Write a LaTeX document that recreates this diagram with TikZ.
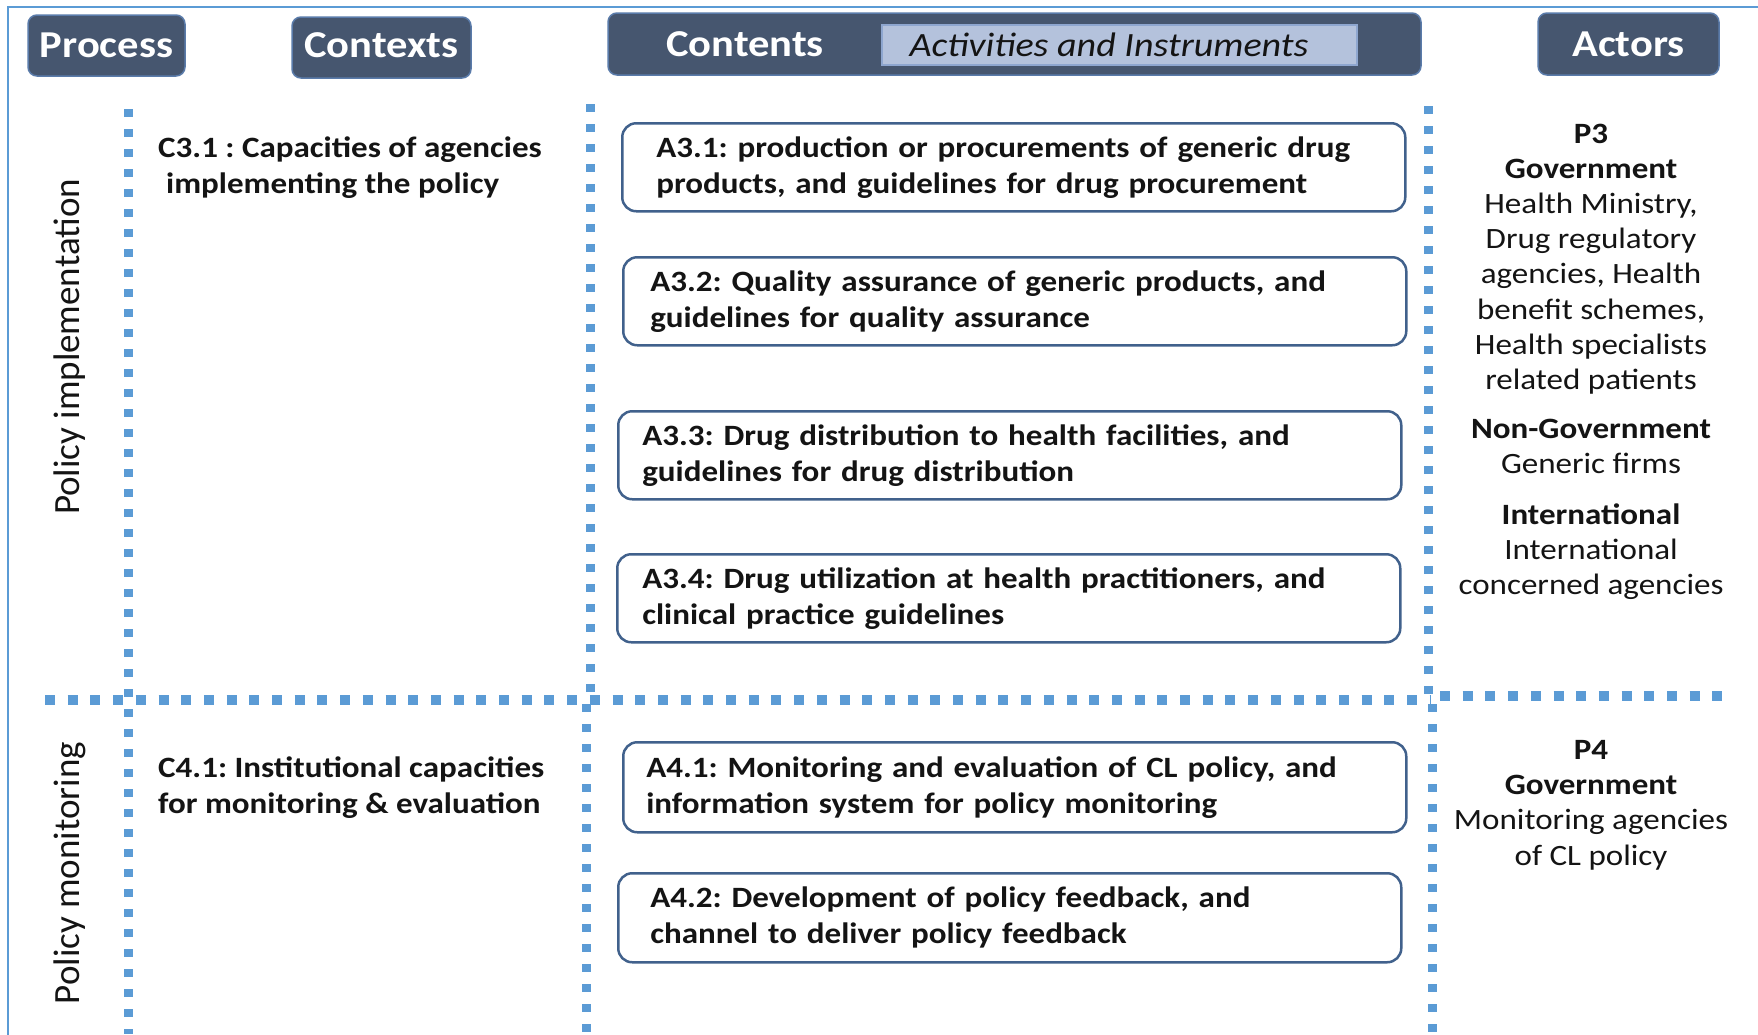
\documentclass[tikz,border=0pt]{standalone}
\usepackage{fontspec}
\setmainfont{Carlito}[FakeStretch=1.12]
\newfontfamily\rotfont{Carlito}
\definecolor{framecol}{HTML}{5B9BD5}
\definecolor{dotcol}{HTML}{5B9BD5}
\definecolor{hdrfill}{HTML}{46566F}
\definecolor{hdrborder}{HTML}{5A7BAA}
\definecolor{actfill}{HTML}{B4C2DC}
\definecolor{actborder}{HTML}{8EA6CF}
\definecolor{boxcol}{HTML}{41618C}
\definecolor{txt}{HTML}{141414}
\frenchspacing
\begin{document}
\begin{tikzpicture}[x=1pt,y=-1pt,
  hdr/.style={draw=hdrborder, fill=hdrfill, line width=1.5pt, rounded corners=9pt, text=white,
    font=\bfseries\fontsize{38}{44}\selectfont, inner sep=0pt},
  hdrtext/.style={text=white, font=\bfseries\fontsize{38}{44}\selectfont, inner sep=0pt},
  vdots/.style={dotcol, line width=9pt, dash pattern=on 8pt off 12pt},
  hdots/.style={dotcol, line width=10pt, dash pattern=on 10pt off 12.7pt},
  abox/.style={draw=boxcol, line width=2.5pt, rounded corners=14pt, fill=white, minimum width=783pt,
    minimum height=88pt, anchor=north west, align=left, text=txt,
    font=\bfseries\fontsize{29.5}{36}\selectfont},
  ctx/.style={anchor=west, align=left, text=txt, inner sep=0pt, font=\bfseries\fontsize{29.5}{36}\selectfont},
  actor/.style={align=center, text=txt, inner sep=0pt, font=\fontsize{29.5}{35.2}\selectfont},
  rotlab/.style={rotate=90, text=txt, inner sep=0pt, font=\rotfont\fontsize{37}{40}\selectfont}
]
\useasboundingbox (0,0) rectangle (1758,1034);
\fill[white] (0,0) rectangle (1758,1034);
% outer frame
\draw[framecol, line width=2pt] (8,1040) -- (8,7) -- (1765,7);
% dotted grid lines
\draw[vdots] (128,109) -- (128,1034);
\draw[vdots] (590,104) -- (590,696);
\draw[vdots] (586,704) -- (586,1034);
\draw[vdots] (1428,106) -- (1428,696);
\draw[vdots] (1432,704) -- (1432,1034);
\draw[hdots] (45,700) -- (1430,700);
\draw[hdots] (1440,696) -- (1735,696);
% headers
\node[hdr, minimum width=157pt, minimum height=61pt] (process) at (106.5,45.5) {Process};
\node[hdr, minimum width=179pt, minimum height=61pt] (contexts) at (381.5,47.5) {};
\node[hdrtext] (contextslabel) at (381.5,45) {Contexts};
\node[hdr, minimum width=813pt, minimum height=62pt] (contents) at (1014.5,44) {};
\node[hdrtext] (contentslabel) at (745,44) {Contents};
\node[draw=actborder, fill=actfill, line width=2pt, minimum width=475pt, minimum height=40pt, inner sep=0pt] (activities) at (1119.5,45) {};
\node[text=txt, inner sep=0pt, font=\itshape\fontsize{34}{40}\selectfont] (activitieslabel) at (1109,45) {Activities and Instruments};
\node[hdr, minimum width=181pt, minimum height=62pt] (actors) at (1628.5,44) {Actors};
% rotated process labels
\node[rotlab] (pimpl) at (70,347) {Policy implementation};
\node[rotlab] (pmon) at (70,873) {Policy monitoring};
% contexts
\node[ctx] (c31) at (158,168) {C3.1 : Capacities of agencies\\\hspace{8pt}implementing the policy};
\node[ctx] (c41) at (158,788) {C4.1: Institutional\ capacities\\for monitoring \& evaluation};
% activity boxes
\node[abox, inner xsep=34pt, text width=715pt] (a31) at (621,122)
  {A3.1: production\ or procurements of generic drug\\products, and guidelines for drug procurement};
\node[abox, inner xsep=27pt, text width=729pt] (a32) at (622,256)
  {A3.2: Quality assurance\ of generic products, and\\guidelines for quality assurance};
\node[abox, inner xsep=24pt, text width=735pt] (a33) at (617,410)
  {A3.3: Drug distribution\ to health facilities, and\\guidelines for drug distribution};
\node[abox, inner xsep=25pt, text width=733pt] (a34) at (616,553)
  {A3.4: Drug utilization at health practitioners,\ and\\clinical practice guidelines};
\node[abox, inner xsep=23pt, text width=737pt, minimum height=90pt] (a41) at (622,741)
  {A4.1: Monitoring and evaluation of CL policy, and\\information system for policy monitoring};
\node[abox, inner xsep=32pt, text width=719pt, minimum height=89pt] (a42) at (617,872)
  {A4.2: Development of policy feedback, and\\channel to deliver policy feedback};
% actors
\node[actor] (p3) at (1591,259) {\textbf{P3}\\\textbf{Government}\\Health Ministry,\\Drug regulatory\\agencies, Health\\benefit schemes,\\Health specialists\\related patients};
\node[actor] (nongov) at (1591,446.5) {\textbf{Non-Government}\\Generic firms};
\node[actor] (intl) at (1591,551.5) {\textbf{International}\\International\\concerned agencies};
\node[actor] (p4) at (1591,805) {\textbf{P4}\\\textbf{Government}\\Monitoring agencies\\of CL policy};
\end{tikzpicture}
\end{document}
